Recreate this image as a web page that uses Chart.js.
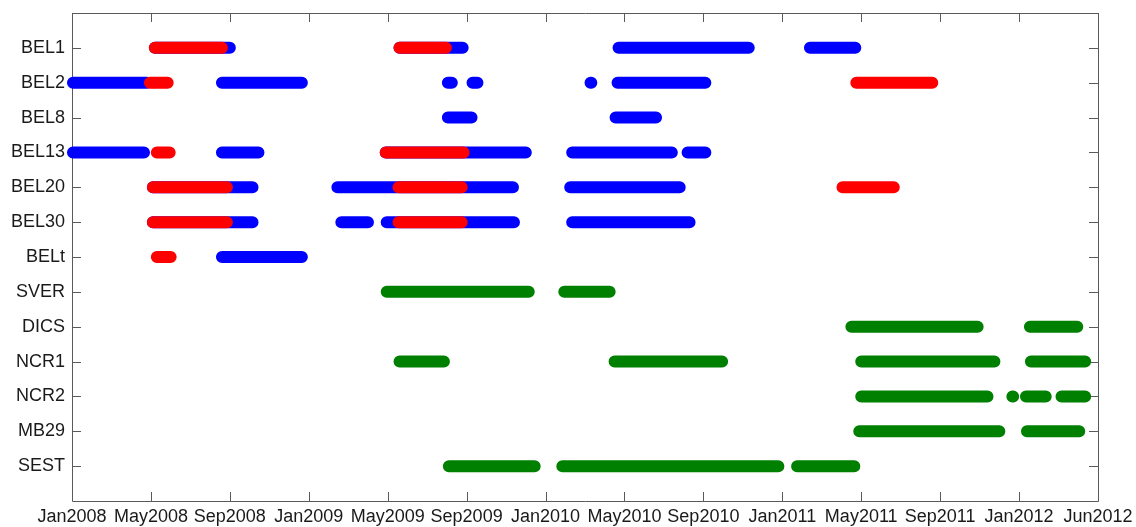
<!DOCTYPE html>
<html>
<head>
<meta charset="utf-8">
<script src="https://cdn.jsdelivr.net/npm/chart.js@4.4.1/dist/chart.umd.min.js"></script>
<style>
    body { margin: 0; background: #ffffff; }
    #wrap { width: 1136px; height: 527px; }
</style>
</head>
<body>
<div id="wrap"><canvas id="graph1" width="1136" height="527"></canvas></div>
<script>
const stations = ["BEL1", "BEL2", "BEL8", "BEL13", "BEL20", "BEL30", "BELt", "SVER", "DICS", "NCR1", "NCR2", "MB29", "SEST"]

// one label every 4 months, counted from Jan 2008
const xTickLabels = ["Jan2008", "May2008", "Sep2008", "Jan2009", "May2009", "Sep2009", "Jan2010", "May2010", "Sep2010", "Jan2011", "May2011", "Sep2011", "Jan2012", "Jun2012"]

// [station, start, end] in months since Jan 2008
const bluePeriods = [
    ["BEL1", 4.2, 8.0], ["BEL1", 16.6, 19.8], ["BEL1", 27.7, 34.3], ["BEL1", 37.4, 39.7],
    ["BEL2", 0.05, 3.8], ["BEL2", 7.6, 11.65], ["BEL2", 19.05, 19.25], ["BEL2", 20.3, 20.55],
    ["BEL2", 26.28, 26.32], ["BEL2", 27.65, 32.1],
    ["BEL8", 19.05, 20.25], ["BEL8", 27.55, 29.6],
    ["BEL13", 0.05, 3.65], ["BEL13", 7.6, 9.45], ["BEL13", 15.9, 23.0], ["BEL13", 25.35, 30.4], ["BEL13", 31.2, 32.1],
    ["BEL20", 4.1, 9.15], ["BEL20", 13.45, 22.35], ["BEL20", 25.25, 30.8],
    ["BEL30", 4.1, 9.15], ["BEL30", 13.65, 15.0], ["BEL30", 15.95, 22.4], ["BEL30", 25.35, 31.3],
    ["BELt", 7.6, 11.65],
]

const redPeriods = [
    ["BEL1", 4.2, 7.6], ["BEL1", 16.6, 18.95],
    ["BEL2", 3.95, 4.85], ["BEL2", 39.75, 43.6],
    ["BEL13", 4.3, 4.95], ["BEL13", 15.9, 19.85],
    ["BEL20", 4.1, 7.85], ["BEL20", 16.55, 19.75], ["BEL20", 39.05, 41.65],
    ["BEL30", 4.1, 7.85], ["BEL30", 16.55, 19.75],
    ["BELt", 4.3, 5.0],
]

const greenPeriods = [
    ["SVER", 15.95, 23.15], ["SVER", 24.95, 27.25],
    ["DICS", 39.5, 45.9], ["DICS", 48.55, 50.95],
    ["NCR1", 16.6, 18.85], ["NCR1", 27.5, 32.95], ["NCR1", 40.0, 46.75], ["NCR1", 48.6, 51.35],
    ["NCR2", 40.0, 46.4], ["NCR2", 47.66, 47.7], ["NCR2", 48.35, 49.35], ["NCR2", 50.15, 51.35],
    ["MB29", 39.9, 47.0], ["MB29", 48.4, 51.05],
    ["SEST", 19.1, 23.45], ["SEST", 24.85, 35.8], ["SEST", 36.75, 39.65],
]

const toPoints = (periods) => {
    const result = []
    for (let [station, start, end] of periods) {
        const row = stations.indexOf(station) + 1
        result.push({ x: start, y: row }, { x: end, y: row }, { x: end, y: null })
    }
    return result
}

const makeDataset = (periods, color, order) => ({
    data: toPoints(periods),
    showLine: true,
    spanGaps: false,
    borderColor: color,
    backgroundColor: color,
    borderWidth: 12,
    borderCapStyle: "round",
    borderJoinStyle: "round",
    pointRadius: 0,
    tension: 0,
    clip: false,
    order: order,
})

// box round the plot and ticks pointing inward on all four sides
const frameTicks = {
    id: "frameTicks",
    beforeDatasetsDraw(chart) {
        const { ctx, chartArea: a, scales } = chart
        const len = 9
        ctx.save()
        ctx.strokeStyle = "#5a5a5a"
        ctx.lineWidth = 1
        ctx.beginPath()
        ctx.rect(Math.round(a.left) + 0.5, Math.round(a.top) + 0.5, Math.round(a.right - a.left), Math.round(a.bottom - a.top))
        for (let t of scales.x.ticks) {
            const px = Math.round(scales.x.getPixelForValue(t.value)) + 0.5
            ctx.moveTo(px, a.bottom)
            ctx.lineTo(px, a.bottom - len)
            ctx.moveTo(px, a.top)
            ctx.lineTo(px, a.top + len)
        }
        for (let t of scales.y.ticks) {
            const py = Math.round(scales.y.getPixelForValue(t.value)) + 0.5
            ctx.moveTo(a.left, py)
            ctx.lineTo(a.left + len, py)
            ctx.moveTo(a.right, py)
            ctx.lineTo(a.right - len, py)
        }
        ctx.stroke()
        ctx.restore()
    },
}

const noPadding = (scale) => {
    scale.paddingLeft = 0
    scale.paddingRight = 0
    scale.paddingTop = 0
    scale.paddingBottom = 0
}

const font = { family: "'Liberation Sans', Arial, sans-serif", size: 18 }

const config1 = {
    type: "scatter",
    data: {
        datasets: [
            makeDataset(redPeriods, "#ff0000", 0),
            makeDataset(bluePeriods, "#0000ff", 1),
            makeDataset(greenPeriods, "#008000", 1),
        ],
    },
    options: {
        responsive: false,
        animation: false,
        layout: {
            padding: { top: 13, right: 38, left: 0, bottom: 0 },
        },
        plugins: {
            legend: { display: false },
            tooltip: { enabled: false },
        },
        scales: {
            x: {
                type: "linear",
                min: 0,
                max: 52,
                afterBuildTicks: (scale) => {
                    scale.ticks = xTickLabels.map((label, i) => ({ value: i * 4 }))
                },
                afterFit: (scale) => {
                    scale.height = 26
                    noPadding(scale)
                },
                ticks: {
                    autoSkip: false,
                    maxRotation: 0,
                    padding: 5,
                    color: "#1a1a1a",
                    font: font,
                    callback: (value) => xTickLabels[value / 4],
                },
                grid: { display: false, drawTicks: false },
                border: { display: false },
            },
            y: {
                type: "linear",
                reverse: true,
                min: 0,
                max: 14,
                afterBuildTicks: (scale) => {
                    scale.ticks = stations.map((s, i) => ({ value: i + 1 }))
                },
                afterFit: (scale) => {
                    scale.width = 72
                    noPadding(scale)
                },
                ticks: {
                    autoSkip: false,
                    padding: 7,
                    color: "#1a1a1a",
                    font: font,
                    callback: (value) => stations[value - 1],
                },
                grid: { display: false, drawTicks: false },
                border: { display: false },
            },
        },
    },
    plugins: [frameTicks],
}

const ctx1 = document.getElementById("graph1")
const chart1 = new Chart(ctx1, config1)
</script>
</body>
</html>
